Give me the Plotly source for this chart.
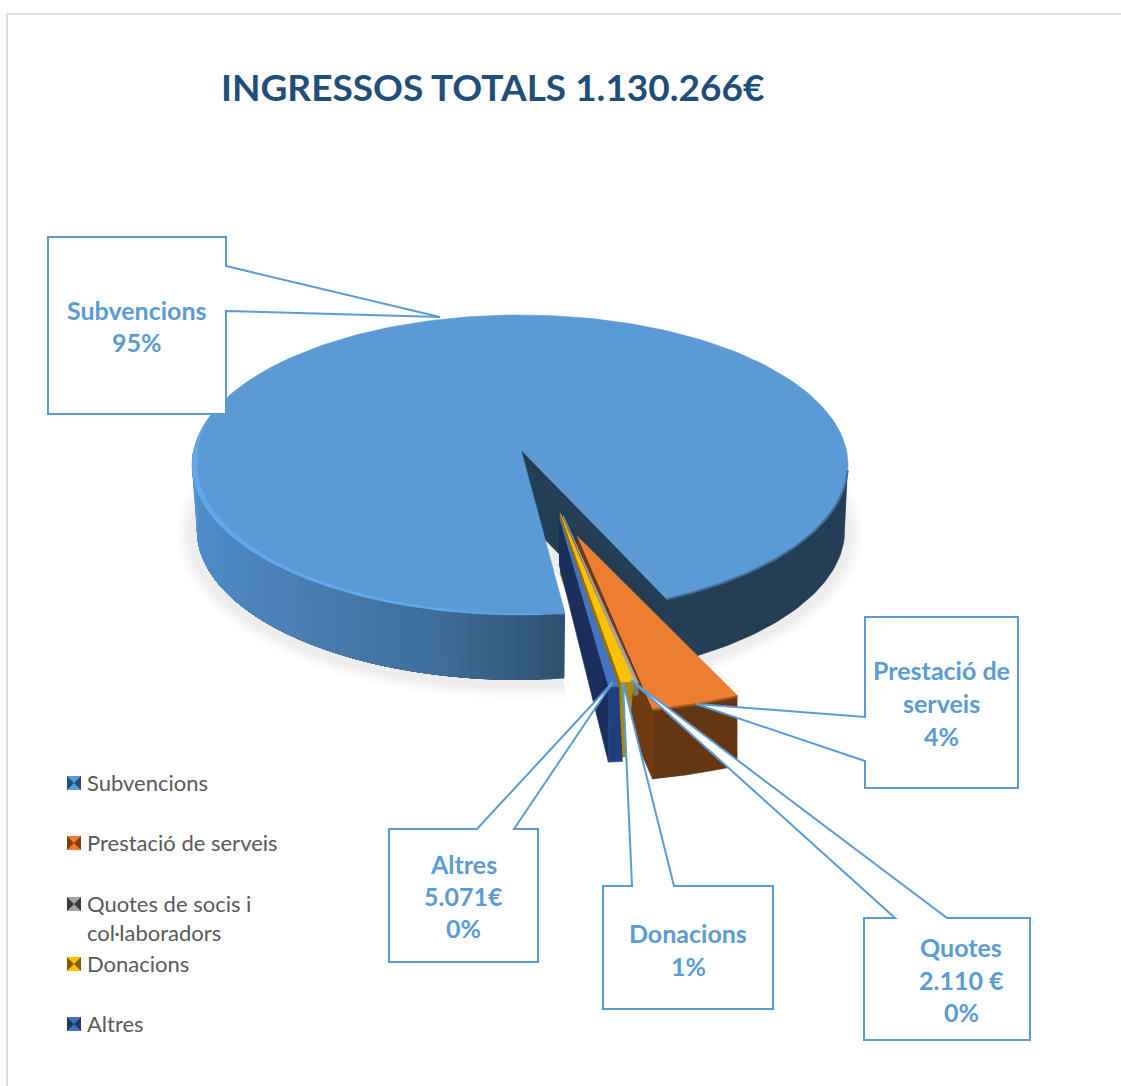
import numpy as np
import plotly.graph_objects as go

# ---------- data ----------
categories = ["Subvencions", "Prestació de serveis", "Quotes de socis i col·laboradors", "Donacions", "Altres"]
values = [1071585, 45000, 2110, 6500, 5071]
title_text = "INGRESSOS TOTALS 1.130.266€"
callout_lines = [
    ["Subvencions", "95%"],
    ["Prestació de", "serveis", "4%"],
    ["Quotes", "2.110 €", "0%"],
    ["Donacions", "1%"],
    ["Altres", "5.071€", "0%"],
]

# ---------- styling / geometry ----------
W, H = 1121, 1086
CX, CY, RX, RY = 520, 465, 328, 150
AP = (521, 450)
START = 172.1
DEPTH = 65
BLUE_LINE = "#5B9BD5"
TOP_COL = ["#5B9AD5", "#ED7D31", "#A5A5A5", "#FFC000", "#4472C4"]
SIDE_COL = [None, "#653612", "#7A7A72", "#A88A10", "#213F7C"]
CUT_COL = [None, "#6F3A12", "#777777", "#8F7208", "#1B2F5C"]

fig = go.Figure()


def rim(a0, a1, n=60):
    a = np.radians(np.linspace(a0, a1, n))
    return CX + RX * np.sin(a), CY - RY * np.cos(a)


def poly(x, y, color, name=None, lw=0.6):
    fig.add_trace(go.Scatter(x=list(x), y=list(y), mode="lines", fill="toself",
                             fillcolor=color, line=dict(color=color, width=lw),
                             hoverinfo="text" if name else "skip", text=name,
                             showlegend=False))


def line(x, y, color, width):
    fig.add_trace(go.Scatter(x=list(x), y=list(y), mode="lines",
                             line=dict(color=color, width=width),
                             hoverinfo="skip", showlegend=False))


total = sum(values)
sweeps = [v / total * 360 for v in values]
angles = [START]
for s in sweeps:
    angles.append(angles[-1] + s)

a0, a1 = angles[0], angles[1]
a_right = a1 - 360

# soft shadow under the disc
for i in range(6):
    g = 3 + i * 2.4
    xs, ys = rim(a0, a1, 120)
    xs = CX + (xs - CX) * (1 + g / RX)
    ys = CY + DEPTH + 4 + (ys - CY) * (1 + g / RY)
    poly(list(xs) + [AP[0] + 4], list(ys) + [AP[1] + DEPTH + 30], "rgba(60,60,60,0.016)", lw=0)

# outer wall of the big slice, left part (overlapping strips, dark end first)
stops = [(172, (45, 81, 112)), (195, (63, 111, 154)), (225, (74, 128, 181)),
         (255, (79, 140, 200)), (272, (85, 147, 208))]
edges = np.linspace(a0, 275, 50)
step = edges[1] - edges[0]
for e0 in edges[:-1]:
    mid = e0 + step / 2
    c = [int(np.interp(mid, [s[0] for s in stops], [s[1][k] for s in stops])) for k in range(3)]
    x, y = rim(e0, 275, 30)
    bx = CX + (x - CX) * 0.985
    col = f"rgb({c[0]},{c[1]},{c[2]})"
    fig.add_trace(go.Scatter(x=list(x) + list(bx[::-1]), y=list(y) + list((y + DEPTH)[::-1]),
                             mode="lines", fill="toself", fillcolor=col, line=dict(width=0),
                             hoverinfo="skip", showlegend=False))

# outer wall + cut face, right part
x, y = rim(92, a_right, 60)
bx = CX + (x - CX) * 0.99
poly(list(x) + list(bx[::-1]), list(y) + list((y + DEPTH)[::-1]), "#243F55")
ex, ey = x[-1], y[-1]
poly([AP[0], ex, ex, AP[0]], [AP[1], ey, ey + DEPTH, AP[1] + DEPTH], "#243F55")

# top face of the big slice
x, y = rim(a0, a1, 240)
poly([AP[0]] + list(x), [AP[1]] + list(y), TOP_COL[0], categories[0])

# rim highlight: a bevel that widens towards the left side
bev = np.linspace(176, 290, 70)
ox, oy = rim(176, 290, 70)
widths = np.interp(bev, [176, 200, 250, 272, 290], [0.005, 0.012, 0.018, 0.016, 0.0])
ix = CX + (ox - CX) * (1 - widths)
iy = CY + (oy - CY) * (1 - widths * 1.3)
poly(list(ox) + list(ix[::-1]), list(oy) + list(iy[::-1]), "#62A8EA", lw=0)

# blurred edge on the dark right side
x, y = rim(92, a_right, 40)
line(x, y, "#3F6E9A", 2)

# exploded small slices
slices = {
    1: dict(ap=(577, 536), kx=1.10, ky=1.07, da=70, dr=70, sx=1.0),
    2: dict(ap=(563, 515), kx=1.10, ky=1.04, da=12, dr=12, sx=1.0),
    3: dict(ap=(560, 513), kx=1.14, ky=1.04, da=60, dr=75, sx=0.45),
    4: dict(ap=(559, 517), kx=1.12, ky=1.04, da=47, dr=75, sx=1.4),
}
for i in [1, 2, 3, 4]:
    s = slices[i]
    st, en = angles[i] - 360, angles[i + 1] - 360
    rx_, ry_ = rim(st, en, 12)
    x = s["ap"][0] + s["kx"] * (rx_ - AP[0])
    y = s["ap"][1] + s["ky"] * (ry_ - AP[1])
    xl, yl = x[-1], y[-1]
    # left cut face
    poly([s["ap"][0], xl, xl, s["ap"][0]],
         [s["ap"][1], yl, yl + s["dr"], s["ap"][1] + s["da"]], CUT_COL[i])
    # outer wall
    bx = xl + (x - xl) * s["sx"]
    poly(list(x) + list(bx[::-1]), list(y) + list((y + s["dr"])[::-1]), SIDE_COL[i])
    # top face
    poly([s["ap"][0]] + list(x), [s["ap"][1]] + list(y), TOP_COL[i], categories[i])
    if i == 1:
        line(x, y + 1, "#9E5A26", 2)

# legend glyphs and labels
LEG_Y = [783, 843, 904, 964, 1024]
GLYPH_DARK = ["#1F4E79", "#843C0C", "#3B3B3B", "#7F6000", "#1F3864"]
GLYPH_COL = ["#5B9BD5", "#ED7D31", "#A5A5A5", "#FFC000", "#4472C4"]
for yy, c, d in zip(LEG_Y, GLYPH_COL, GLYPH_DARK):
    fig.add_trace(go.Scatter(x=[74], y=[yy], mode="markers", hoverinfo="skip", showlegend=False,
                             marker=dict(symbol="square", size=14, color=c)))
    fig.add_trace(go.Scatter(x=[74], y=[yy], mode="markers", hoverinfo="skip", showlegend=False,
                             marker=dict(symbol="bowtie", size=14, color=d)))

annots = []


def text(x, y, s, size, color, bold=False, anchor="center"):
    annots.append(dict(x=x, y=y - 1, xref="x", yref="y", text=f"<b>{s}</b>" if bold else s,
                       showarrow=False, xanchor=anchor, yanchor="middle",
                       font=dict(family="Lato", size=size, color=color)))


text(492, 87, title_text, 37, "#1F4E79", True)
legend_rows = [("Subvencions", 783), ("Prestació de serveis", 843), ("Quotes de socis i", 904),
               ("col·laboradors", 933), ("Donacions", 964), ("Altres", 1024)]
for s, yy in legend_rows:
    text(85, yy, s, 22, "#595959", False, "left")

shapes = [
    dict(type="line", x0=7, y0=14, x1=W, y1=14, line=dict(color="#DEDEDE", width=2), layer="below"),
    dict(type="line", x0=7, y0=14, x1=7, y1=H, line=dict(color="#DEDEDE", width=2), layer="below"),
]
boxes = [
    ("M48,237 L226,237 L226,266 L440,317 L226,311 L226,414 L48,414 Z", 137, [311, 343]),
    ("M865,617 L1018,617 L1018,788 L865,788 L865,761 L696,704 L865,717 Z", 941, [671, 704, 737]),
    ("M864,918 L895,918 L631,680 L947,918 L1030,918 L1030,1040 L864,1040 Z", 961, [948, 981, 1013]),
    ("M603,886 L632,886 L623,682 L674,886 L773,886 L773,1009 L603,1009 Z", 688, [934, 967]),
    ("M389,829 L477,829 L613,682 L514,829 L538,829 L538,962 L389,962 Z", 463, [865, 897, 929]),
]
for (path, cx, ys), lines in zip(boxes, callout_lines):
    shapes.append(dict(type="path", path=path, fillcolor="white", layer="above",
                       line=dict(color=BLUE_LINE, width=2)))
    for yy, s in zip(ys, lines):
        text(cx, yy, s, 25, BLUE_LINE, True)

fig.update_layout(
    width=W, height=H, margin=dict(l=0, r=0, t=0, b=0),
    paper_bgcolor="white", plot_bgcolor="white", showlegend=False,
    xaxis=dict(range=[0, W], visible=False, fixedrange=True),
    yaxis=dict(range=[H, 0], visible=False, fixedrange=True),
    shapes=shapes, annotations=annots,
)
fig.write_html("out.html", post_script="document.body.style.margin='0';document.documentElement.style.overflow='hidden';",
               config=dict(displayModeBar=False))
